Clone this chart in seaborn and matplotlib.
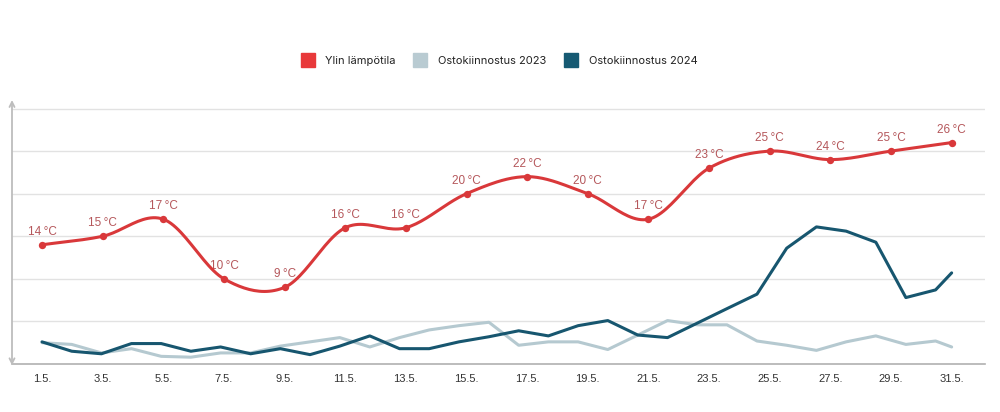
import numpy as np
import pandas as pd
import matplotlib.pyplot as plt
from matplotlib.lines import Line2D
import seaborn as sns

# max temperature, every other day
temp_days = [1, 3, 5, 7, 9, 11, 13, 15, 17, 19, 21, 23, 25, 27, 29, 31]
temps = [14, 15, 17, 10, 9, 16, 16, 20, 22, 20, 17, 23, 25, 24, 25, 26]
tick_labels = ["1.5.", "3.5.", "5.5.", "7.5.", "9.5.", "11.5.", "13.5.", "15.5.",
               "17.5.", "19.5.", "21.5.", "23.5.", "25.5.", "27.5.", "29.5.", "31.5."]

# purchase interest index (same vertical scale as the temperatures)
interest_days = [1.00, 1.98, 2.96, 3.95, 4.93, 5.91, 6.89, 7.88, 8.86, 9.84,
                 10.82, 11.81, 12.79, 13.77, 14.75, 15.74, 16.72, 17.70, 18.68, 19.66,
                 20.65, 21.63, 22.61, 23.59, 24.58, 25.56, 26.54, 27.52, 28.50, 29.49,
                 30.47, 31.00]
interest_2023 = [2.5, 2.3, 1.3, 1.8, 0.9, 0.8, 1.3, 1.3, 2.1, 2.6,
                 3.1, 2.0, 3.1, 4.0, 4.5, 4.9, 2.2, 2.6, 2.6, 1.7,
                 3.4, 5.1, 4.6, 4.6, 2.7, 2.2, 1.6, 2.6, 3.3, 2.3,
                 2.7, 2.0]
interest_2024 = [2.6, 1.5, 1.2, 2.4, 2.4, 1.5, 2.0, 1.2, 1.8, 1.1,
                 2.1, 3.3, 1.8, 1.8, 2.6, 3.2, 3.9, 3.3, 4.5, 5.1,
                 3.4, 3.1, 4.8, 6.5, 8.2, 13.6, 16.1, 15.6, 14.3, 7.8,
                 8.7, 10.7]

RED = "#d9383a"
LABEL_RED = "#b5575b"
LIGHT = "#b5c9d0"
DARK = "#17566f"


def smooth_curve(x, y, n=24):
    """Cubic Hermite (Catmull-Rom style) curve through the points."""
    x = np.asarray(x, float)
    y = np.asarray(y, float)
    m = np.gradient(y, x)
    xs, ys = [], []
    t = np.linspace(0, 1, n, endpoint=False)
    h00 = 2 * t**3 - 3 * t**2 + 1
    h10 = t**3 - 2 * t**2 + t
    h01 = -2 * t**3 + 3 * t**2
    h11 = t**3 - t**2
    for i in range(len(x) - 1):
        h = x[i + 1] - x[i]
        xs.append(x[i] + t * h)
        ys.append(h00 * y[i] + h10 * h * m[i] + h01 * y[i + 1] + h11 * h * m[i + 1])
    xs.append([x[-1]])
    ys.append([y[-1]])
    return np.concatenate(xs), np.concatenate(ys)


sns.set_theme(style="white")
plt.rcParams["font.family"] = ["Liberation Sans", "DejaVu Sans"]

fig = plt.figure(figsize=(10, 4.12), dpi=100)
ax = fig.add_axes([0.012, 48 / 412, 0.973, 264 / 412])

df = pd.DataFrame({"day": interest_days, "2023": interest_2023, "2024": interest_2024})
sns.lineplot(data=df, x="day", y="2023", ax=ax, color=LIGHT, lw=2.2, zorder=2)
sns.lineplot(data=df, x="day", y="2024", ax=ax, color=DARK, lw=2.2, zorder=3)

sx, sy = smooth_curve(temp_days, temps)
sns.lineplot(x=sx, y=sy, ax=ax, color=RED, lw=2.2, sort=False, estimator=None, zorder=4)
sns.scatterplot(x=temp_days, y=temps, ax=ax, color=RED, s=28, linewidth=0, zorder=5)

for d, t in zip(temp_days, temps):
    ax.annotate(f"{t}\u2009°C", (d, t), xytext=(0, 5), textcoords="offset points",
                ha="center", va="bottom", fontsize=8.5, color=LABEL_RED)

ax.set_xlim(0.01, 32.1)
ax.set_ylim(0, 31)
ax.set_yticks([5, 10, 15, 20, 25, 30])
ax.set_yticklabels([])
ax.yaxis.grid(True, color="#e2e2e2", lw=1)
ax.set_xticks(temp_days)
ax.set_xticklabels(tick_labels, fontsize=8, color="#333333")
ax.tick_params(axis="both", length=0)
ax.tick_params(axis="x", pad=7)
ax.set_xlabel("")
ax.set_ylabel("")

for side in ["top", "right", "left"]:
    ax.spines[side].set_visible(False)
ax.spines["bottom"].set_color("#b0b0b0")
ax.spines["bottom"].set_linewidth(1.2)

# vertical axis with arrow heads at both ends
ax.annotate("", xy=(0, 1.0), xytext=(0, -0.005), xycoords="axes fraction",
            arrowprops=dict(arrowstyle="<->", color="#bdbdbd", lw=1.3,
                            shrinkA=0, shrinkB=0, mutation_scale=9))

handles = [
    Line2D([], [], marker="s", ls="", markersize=10, color="#e8393a", label="Ylin lämpötila"),
    Line2D([], [], marker="s", ls="", markersize=10, color="#b9cbd2", label="Ostokiinnostus 2023"),
    Line2D([], [], marker="s", ls="", markersize=10, color="#165a73", label="Ostokiinnostus 2024"),
]
leg = fig.legend(handles=handles, loc="center", bbox_to_anchor=(0.497, 1 - 61 / 412),
                 ncol=3, frameon=False, handletextpad=0.6, columnspacing=1.2,
                 prop={"family": ["Inter", "DejaVu Sans"], "size": 8})
for txt in leg.get_texts():
    txt.set_color("#222222")

fig.savefig("out.png", dpi=100)
